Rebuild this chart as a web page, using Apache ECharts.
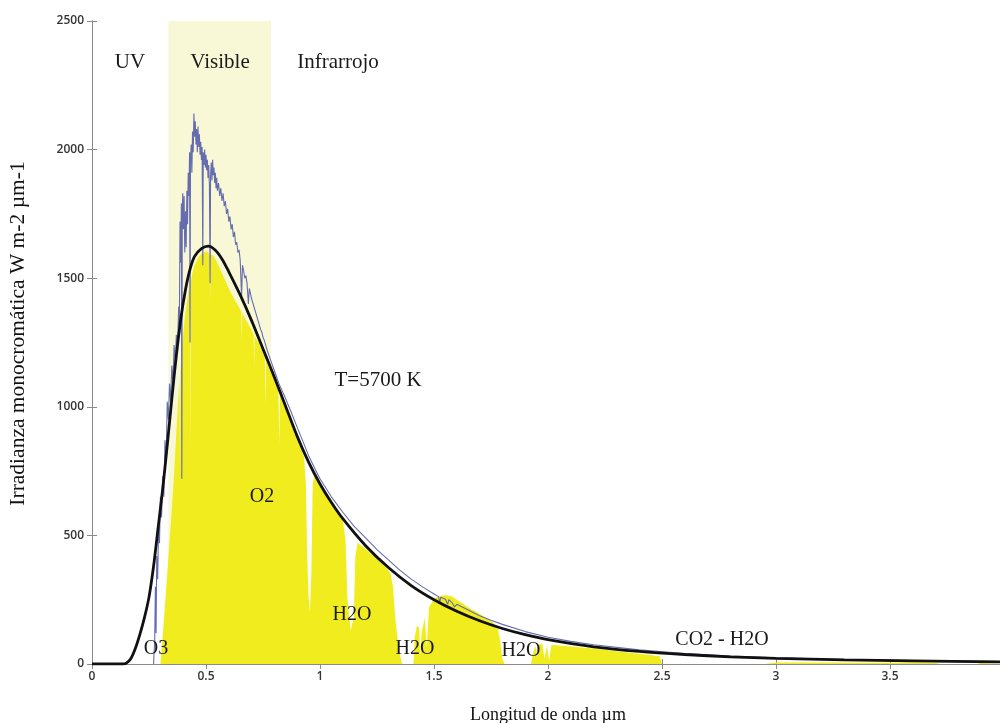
<!DOCTYPE html>
<html>
<head>
<meta charset="utf-8">
<title>Irradianza solar</title>
<script src="https://cdn.jsdelivr.net/npm/echarts@6/dist/echarts.min.js"></script>
<style>
  html, body { margin: 0; padding: 0; background: #fff; }
  #main { width: 1000px; height: 723px; }
</style>
</head>
<body>
<div id="main"></div>
<script>
// cuerpo negro T=5700 K (curva negra)
const planck = [
  [0, 0], [0.13, 0], [0.15, 3], [0.17, 20], [0.19, 60], [0.21, 115], [0.23, 180], [0.25, 260],
  [0.27, 380], [0.29, 530], [0.31, 680], [0.33, 850], [0.35, 1030], [0.37, 1200], [0.39, 1345],
  [0.41, 1455], [0.43, 1535], [0.45, 1585], [0.48, 1615], [0.51, 1625], [0.54, 1610], [0.57, 1575],
  [0.6, 1525], [0.65, 1435], [0.7, 1335], [0.75, 1225], [0.8, 1115], [0.85, 1000], [0.9, 885],
  [0.95, 785], [1.0, 700], [1.05, 628], [1.1, 565], [1.2, 460], [1.3, 375], [1.4, 305], [1.5, 250],
  [1.6, 205], [1.7, 168], [1.8, 138], [1.9, 114], [2.0, 95], [2.2, 67], [2.4, 49], [2.6, 37],
  [2.8, 28], [3.0, 22], [3.3, 16], [3.6, 12], [4.0, 8]
];

// espectro fuera de la atmosfera (linea azul)
const solarTop = [
  [0.270, 0], [0.275, 90], [0.278, 300], [0.281, 120], [0.284, 420], [0.288, 330], [0.292, 540],
  [0.296, 470], [0.300, 650], [0.305, 570], [0.310, 730], [0.315, 650], [0.320, 870], [0.325, 790],
  [0.330, 1020], [0.335, 950], [0.340, 1090], [0.345, 1020], [0.350, 1160], [0.355, 1090],
  [0.360, 1240], [0.365, 1170], [0.370, 1280], [0.375, 1220], [0.380, 1390], [0.383, 1300],
  [0.386, 1720], [0.389, 1560], [0.392, 1790], [0.394, 720], [0.396, 1760], [0.398, 1830],
  [0.401, 1690], [0.404, 1820], [0.407, 1600], [0.410, 1760], [0.413, 1620], [0.416, 1840],
  [0.419, 1710], [0.422, 1910], [0.425, 1820], [0.428, 1990], [0.430, 1250], [0.432, 1960],
  [0.435, 2020], [0.438, 1910], [0.441, 2070], [0.444, 1990], [0.447, 2140], [0.450, 2050],
  [0.453, 2110], [0.456, 2020], [0.459, 2080], [0.462, 1990], [0.465, 2090], [0.468, 2010],
  [0.471, 2060], [0.474, 1980], [0.477, 2030], [0.480, 1960], [0.483, 2010], [0.486, 1550],
  [0.488, 1990], [0.491, 1940], [0.494, 2000], [0.497, 1930], [0.500, 1980], [0.503, 1920],
  [0.506, 1960], [0.509, 1890], [0.512, 1940], [0.515, 1860], [0.518, 1480], [0.520, 1900],
  [0.523, 1950], [0.526, 1880], [0.529, 1960], [0.532, 1900], [0.535, 1930], [0.538, 1870],
  [0.541, 1910], [0.544, 1850], [0.547, 1890], [0.550, 1840], [0.555, 1870], [0.560, 1820],
  [0.565, 1850], [0.570, 1800], [0.575, 1830], [0.580, 1780], [0.585, 1800], [0.590, 1750],
  [0.595, 1770], [0.600, 1720], [0.605, 1740], [0.610, 1690], [0.615, 1710], [0.620, 1660],
  [0.625, 1680], [0.630, 1630], [0.635, 1640], [0.640, 1600], [0.645, 1610], [0.650, 1570],
  [0.656, 1430], [0.660, 1550], [0.665, 1530], [0.670, 1500], [0.675, 1510], [0.680, 1480],
  [0.686, 1400], [0.690, 1460], [0.695, 1440], [0.700, 1420], [0.705, 1405], [0.710, 1390],
  [0.715, 1375], [0.720, 1360], [0.725, 1345], [0.730, 1330], [0.735, 1315], [0.740, 1300],
  [0.745, 1290], [0.750, 1270], [0.755, 1260], [0.760, 1245], [0.770, 1215], [0.780, 1190],
  [0.790, 1165], [0.800, 1140], [0.820, 1090], [0.850, 1030], [0.880, 965], [0.900, 920],
  [0.930, 855], [0.950, 810], [0.980, 755], [1.000, 720], [1.050, 650], [1.100, 590],
  [1.150, 535], [1.200, 490], [1.250, 445], [1.300, 405], [1.350, 365], [1.400, 330],
  [1.450, 300], [1.500, 272], [1.520, 262], [1.525, 240], [1.530, 260], [1.550, 252],
  [1.560, 232], [1.565, 250], [1.580, 238], [1.590, 222], [1.600, 232], [1.650, 210],
  [1.700, 188], [1.750, 170], [1.800, 154], [1.900, 126], [2.000, 104], [2.100, 88],
  [2.200, 75], [2.400, 55], [2.600, 41], [2.800, 31], [3.000, 24], [3.300, 17], [3.600, 13],
  [4.000, 9]
];

// espectro a nivel del mar (relleno amarillo)
const solarSurface = [
  [0.290, 0], [0.300, 0], [0.310, 110], [0.320, 230], [0.330, 350], [0.340, 480], [0.350, 600],
  [0.360, 740], [0.370, 900], [0.380, 1060], [0.384, 1100], [0.386, 760], [0.388, 1130],
  [0.395, 1230], [0.405, 1330], [0.415, 1400], [0.425, 1460], [0.429, 1480], [0.431, 800],
  [0.433, 1485], [0.440, 1520], [0.450, 1550], [0.460, 1570], [0.470, 1585], [0.480, 1595],
  [0.490, 1600], [0.500, 1605], [0.510, 1600], [0.516, 1585], [0.518, 1400], [0.520, 1590],
  [0.530, 1590], [0.540, 1575], [0.550, 1560], [0.560, 1540], [0.570, 1520], [0.580, 1500],
  [0.590, 1480], [0.600, 1460], [0.620, 1425], [0.640, 1395], [0.655, 1370], [0.657, 1250],
  [0.659, 1365], [0.680, 1330], [0.700, 1300], [0.709, 1280], [0.711, 1150], [0.713, 1275],
  [0.730, 1250], [0.750, 1210], [0.758, 1195], [0.761, 1000], [0.764, 1185], [0.780, 1150],
  [0.800, 1105], [0.818, 1065], [0.821, 850], [0.824, 1055], [0.850, 990], [0.870, 940],
  [0.890, 890], [0.910, 850], [0.930, 805], [0.938, 700], [0.944, 420], [0.950, 260],
  [0.956, 200], [0.962, 350], [0.968, 700], [0.975, 735], [1.000, 695], [1.050, 625],
  [1.080, 590], [1.100, 560], [1.112, 480], [1.120, 260], [1.135, 130], [1.148, 180],
  [1.155, 420], [1.165, 470], [1.200, 448], [1.250, 408], [1.290, 375], [1.310, 350],
  [1.320, 300], [1.330, 180], [1.345, 60], [1.360, 0], [1.410, 0], [1.415, 100], [1.425, 150],
  [1.435, 140], [1.440, 30], [1.445, 120], [1.460, 180], [1.468, 60], [1.478, 220], [1.500, 255],
  [1.520, 262], [1.550, 268], [1.580, 262], [1.600, 250], [1.630, 232], [1.660, 215], [1.700, 195],
  [1.730, 178], [1.760, 160], [1.780, 140], [1.790, 90], [1.800, 20], [1.810, 0], [1.925, 0],
  [1.935, 45], [1.945, 70], [1.952, 25], [1.960, 75], [1.975, 80], [1.985, 20], [1.995, 72],
  [2.005, 15], [2.015, 75], [2.050, 72], [2.100, 68], [2.150, 64], [2.200, 60], [2.250, 55],
  [2.300, 50], [2.350, 45], [2.400, 40], [2.450, 35], [2.490, 30], [2.500, 0], [2.950, 0],
  [3.000, 6], [3.200, 6], [3.400, 5], [3.600, 6], [3.700, 4], [3.720, 0], [3.880, 0], [3.900, 5],
  [4.000, 5]
];

// banda visible
const visibleBand = [0.335, 0.785];

const serif = '"Liberation Serif", "Times New Roman", serif';

function label(text, x, y, size) {
  return {
    type: 'text', x: x, y: y, z: 100,
    style: { text: text, font: size + 'px ' + serif, fill: '#1a1a1a', align: 'center', verticalAlign: 'middle' }
  };
}

function initChart() {
  let myChart = echarts.init(document.getElementById('main'));
  let axisColor = '#8a8a8a';
  let tickLabel = { color: '#333', fontSize: 12, fontWeight: 600, fontFamily: '"Open Sans", sans-serif' };

  let option = {
    animation: false,
    backgroundColor: '#fff',
    grid: { left: 92, right: -4, top: 21, bottom: 59, containLabel: false, outerBoundsMode: 'none' },
    xAxis: [
      {
        type: 'value', min: 0, max: 4, interval: 0.5, position: 'bottom',
        axisLine: { show: true, lineStyle: { color: axisColor } },
        axisTick: { inside: true, length: 5, lineStyle: { color: axisColor } },
        splitLine: { show: false },
        axisLabel: Object.assign({ margin: 7, formatter: v => (v >= 4 ? '' : String(v)) }, tickLabel),
        name: 'Longitud de onda µm', nameLocation: 'middle', nameGap: 42,
        nameTextStyle: { fontFamily: serif, fontSize: 18, color: '#111' }
      },
      {
        type: 'value', min: 0, max: 4, interval: 0.5, position: 'top',
        axisLine: { show: true, lineStyle: { color: axisColor } },
        axisTick: { inside: true, length: 5, lineStyle: { color: axisColor } },
        splitLine: { show: false }, axisLabel: { show: false }
      }
    ],
    yAxis: [
      {
        type: 'value', min: 0, max: 2500, interval: 500, position: 'left',
        axisLine: { show: true, lineStyle: { color: axisColor } },
        axisTick: { inside: true, length: 5, lineStyle: { color: axisColor } },
        splitLine: { show: false },
        axisLabel: Object.assign({ margin: 8, formatter: v => String(v) }, tickLabel),
        name: 'Irradianza monocromática W m-2 µm-1', nameLocation: 'middle', nameGap: 63,
        nameTextStyle: { fontFamily: serif, fontSize: 21.5, color: '#111', padding: [0, 0, 0, 18] }
      },
      {
        type: 'value', min: 0, max: 2500, interval: 500, position: 'right',
        axisLine: { show: true, lineStyle: { color: axisColor } },
        axisTick: { inside: true, length: 5, lineStyle: { color: axisColor } },
        splitLine: { show: false }, axisLabel: { show: false }
      }
    ],
    series: [
      {
        // franja del visible
        type: 'line', data: [], z: 0, silent: true,
        markArea: {
          silent: true,
          itemStyle: { color: '#f8f8d6' },
          data: [[{ xAxis: visibleBand[0] }, { xAxis: visibleBand[1] }]]
        }
      },
      {
        name: 'superficie', type: 'line', data: solarSurface, z: 2,
        showSymbol: false, symbol: 'none',
        lineStyle: { width: 0 },
        areaStyle: { color: '#f1ec1e', opacity: 1 }
      },
      {
        name: 'tope atmosfera', type: 'line', data: solarTop, z: 3,
        showSymbol: false, symbol: 'none',
        lineStyle: { color: '#666cb0', width: 1.1 }
      },
      {
        name: 'cuerpo negro', type: 'line', data: planck, z: 4,
        showSymbol: false, symbol: 'none', smooth: 0.3,
        lineStyle: { color: '#111', width: 2.8 }
      }
    ],
    graphic: [
      label('UV', 130, 62, 21),
      label('Visible', 220, 62, 21),
      label('Infrarrojo', 338, 62, 21),
      label('T=5700 K', 378, 380, 21),
      label('O2', 262, 497, 20),
      label('O3', 156, 649, 20),
      label('H2O', 352, 615, 20),
      label('H2O', 415, 649, 20),
      label('H2O', 521, 651, 20),
      label('CO2 - H2O', 722, 640, 20)
    ]
  };
  myChart.setOption(option);
}

initChart();
</script>
</body>
</html>
